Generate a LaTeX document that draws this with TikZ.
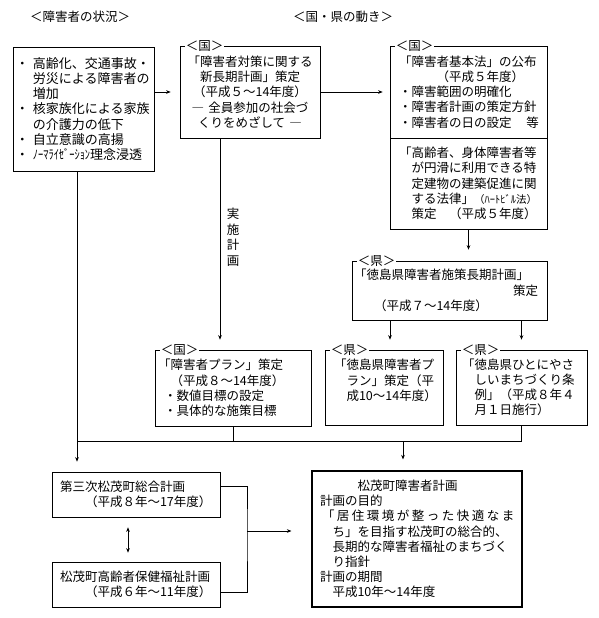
\documentclass[tikz,border=0pt]{standalone}
\usepackage{fontspec}
\usepackage{graphicx}
\setmainfont{Noto Sans CJK JP}
\usetikzlibrary{arrows.meta,calc}
\newcommand\lsp{\kern2.5pt}
\begin{document}
\begin{tikzpicture}[x=1pt,y=-1pt,
  txt/.style={font=\fontsize{12.5}{15.2}\selectfont},
  box/.style={txt, draw, line width=0.7pt, inner ysep=0pt, align=left},
  lbl/.style={txt, fill=white, inner xsep=1pt, inner ysep=0pt, anchor=west},
  arr/.style={-{Stealth[length=4.5pt,width=3.6pt]}, line width=0.6pt},
  arrtwo/.style={{Stealth[length=4.5pt,width=3.6pt]}-{Stealth[length=4.5pt,width=3.6pt]}, line width=0.6pt},
  ln/.style={line width=0.6pt}]
\useasboundingbox (0,0) rectangle (598,618);

% titles
\node[txt] (h1) at (80,17) {＜障害者の状況＞};
\node[txt] (h2) at (343,17) {＜国・県の動き＞};

% left box
\node[box, inner xsep=3pt, text width=135pt, minimum height=124pt,
      font=\fontsize{13}{15.3}\selectfont] (b1) at (83.5,109)
{\makebox[17pt][l]{・}高齢化、交通事故・\\
\hspace*{17pt}労災による障害者の\\
\hspace*{17pt}増加\\
\makebox[17pt][l]{・}核家族化による家族\\
\hspace*{17pt}の介護力の低下\\
\makebox[17pt][l]{・}自立意識の高揚\\
\makebox[17pt][l]{・}\scalebox{0.8}[1]{ﾉｰﾏﾗｲｾﾞｰｼｮﾝ}理念浸透};

% national long-term plan
\node[box, align=center, inner xsep=5pt, text width=130pt, minimum height=92pt] (b2) at (250,92)
{「障害者対策に関する\\
新長期計画」策定\\
（平成５～14年度）\\
― 全員参加の社会づ\\
くりをめざして ―};
\node[lbl] (l2) at ([xshift=5pt]b2.north west) {＜国＞};

% basic law
\node[box, inner xsep=9pt, text width=139pt, minimum height=92pt] (b3a) at (468.5,92)
{「障害者基本法」の公布\\
\hspace*{3em}（平成５年度）\\
・障害範囲の明確化\\
・障害者計画の策定方針\\
\mbox{・障害者の日の設定\hspace*{1.2em}等}};
\node[box, inner xsep=9pt, text width=139pt, minimum height=91pt] (b3b) at (468.5,183.5)
{「高齢者、身体障害者等\\
\hspace*{1em}が円滑に利用できる特\\
\hspace*{1em}定建物の建築促進に関\\
\hspace*{1em}する法律」{\fontsize{10.5}{10}\selectfont （ﾊｰﾄﾋﾞﾙ法）}\\
\hspace*{1em}策定　（平成５年度）};
\node[lbl] (l3) at ([xshift=5pt]b3a.north west) {＜国＞};

% prefecture long-term plan
\node[box, inner xsep=2pt, text width=191pt, minimum height=59pt] (k1) at (449.5,290.5)
{「徳島県障害者施策長期計画」\\
\hspace*{159pt}策定\\
\hspace*{20pt}（平成７～14年度）};
\node[lbl] (lk1) at ([xshift=5pt]k1.north west) {＜県＞};

% national plan
\node[box, inner xsep=3pt, text width=150pt, minimum height=76pt] (p) at (233,388)
{「障害者プラン」策定\\
\hspace*{1em}（平成８～14年度）\\
\hspace*{6pt}・数値目標の設定\\
\hspace*{6pt}・具体的な施策目標};
\node[lbl] (lp) at ([xshift=5pt]p.north west) {＜国＞};

% prefecture plans
\node[box, inner xsep=9pt, text width=100pt, minimum height=75pt] (k2) at (384,387.5)
{「徳島県障害者プ\\
\hspace*{1em}ラン」策定（平\\
\hspace*{1em}成10～14年度）\\
\mbox{}};
\node[lbl] (lk2) at ([xshift=5pt]k2.north west) {＜県＞};

\node[box, inner xsep=6pt, text width=119pt, minimum height=75pt] (k3) at (521.5,387.5)
{「徳島県ひとにやさ\\
\hspace*{1em}しいまちづくり条\\
\hspace*{1em}例」（平成８年４\\
\hspace*{1em}月１日施行）};
\node[lbl] (lk3) at ([xshift=5pt]k3.north west) {＜県＞};

% town plans
\node[box, inner xsep=8pt, text width=152pt, minimum height=45pt] (t1) at (136,494.5)
{第三次松茂町総合計画\\
\hspace*{2em}（平成８年～17年度）};
\node[box, inner xsep=8pt, text width=152pt, minimum height=45pt] (t2) at (136,584.5)
{松茂町高齢者保健福祉計画\\
\hspace*{2em}（平成６年～11年度）};

\node[box, line width=1.2pt, inner xsep=8pt, text width=194pt, minimum height=136pt] (m) at (417,539)
{\hspace*{3em}松茂町障害者計画\\
計画の目的\\
\hspace*{2pt}「\lsp 居\lsp 住\lsp 環\lsp 境\lsp が\lsp 整\lsp っ\lsp た\lsp 快\lsp 適\lsp な\lsp ま\\
\hspace*{1em}ち」を目指す松茂町の総合的、\\
\hspace*{1em}長期的な障害者福祉のまちづく\\
\hspace*{1em}り指針\\
計画の期間\\
\hspace*{1em}平成10年～14年度};

% vertical label
\node[txt, align=center, font=\fontsize{12.5}{15.5}\selectfont] (imp) at (233,237) {実\\施\\計\\画};

% junction coordinates
\coordinate (ja) at (77,441);
\coordinate (jb) at (403,441);
\coordinate (jm) at (247,531);

% connectors
\draw[arr, shorten >=9pt] (b1.east |- b2.west) -- (b2.west);
\draw[arr, shorten >=7pt] (b2.east) -- (b2.east -| b3a.west);
\draw[arr, shorten >=10pt] ([xshift=-30pt]b2.south) -- ([xshift=-30pt]b2.south |- p.north);
\draw[arr, shorten >=11pt] (b3b.south) -- (b3b.south |- k1.north);
\draw[arr, shorten >=10pt] ([xshift=6pt]k2.north |- k1.south) -- ([xshift=6pt]k2.north);
\draw[arr, shorten >=10pt] (k3.north |- k1.south) -- (k3.north);

\draw[arr, shorten >=10pt] ([xshift=-6.5pt]b1.south) -- ([xshift=-6.5pt]b1.south |- t1.north);
\draw[ln] (p.south) |- (ja);
\draw[ln] (k3.south) |- (p.south |- ja);
\draw[arr, shorten >=11pt] (jb) -- (jb |- m.north);

\draw[arrtwo, shorten <=10pt, shorten >=9pt] ([xshift=-8pt]t1.south) -- ([xshift=-8pt]t2.north);
\draw[ln] ([yshift=8.5pt]t1.east) -| (jm) |- ([yshift=-7.5pt]t2.east);
\draw[arr, shorten >=20pt] (jm) -- (jm -| m.west);
\end{tikzpicture}
\end{document}
